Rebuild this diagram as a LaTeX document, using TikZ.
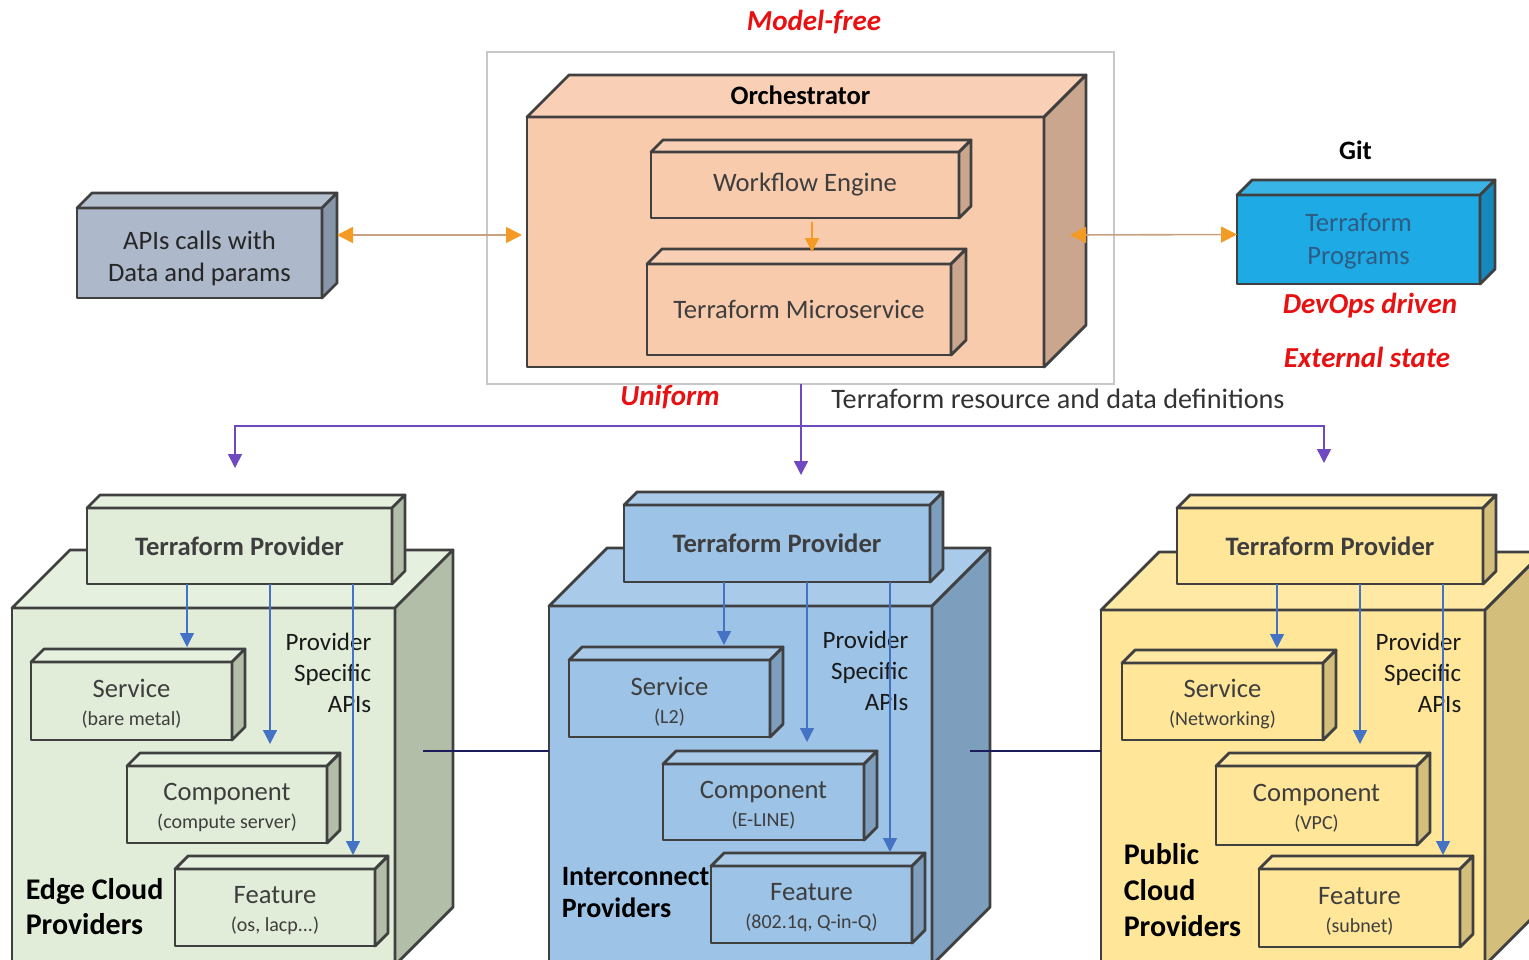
\documentclass[tikz,border=0pt]{standalone}
\usepackage{fontspec}
\setmainfont{Carlito}
\usepackage{tikz}
\usetikzlibrary{arrows.meta,fit,calc}
\tikzset{every picture/.style={line width=0.75pt}}

\definecolor{boxline}{RGB}{64,64,64}
\definecolor{boxtext}{RGB}{62,62,62}
\definecolor{orchfill}{RGB}{248,203,173}
\definecolor{orchside}{RGB}{201,166,141}
\definecolor{apifill}{RGB}{173,185,202}
\definecolor{apiside}{RGB}{135,150,168}
\definecolor{progfill}{RGB}{30,170,228}
\definecolor{progside}{RGB}{21,136,189}
\definecolor{progtext}{RGB}{46,92,132}
\definecolor{edgefill}{RGB}{226,237,217}
\definecolor{edgeside}{RGB}{179,190,168}
\definecolor{netfill}{RGB}{157,195,230}
\definecolor{netside}{RGB}{126,158,190}
\definecolor{pubfill}{RGB}{255,230,153}
\definecolor{pubside}{RGB}{212,190,124}
\definecolor{flowline}{RGB}{200,162,126}
\definecolor{flowhead}{RGB}{243,155,37}
\definecolor{defline}{RGB}{112,72,192}
\definecolor{apiblue}{RGB}{68,114,196}
\definecolor{linknavy}{RGB}{28,28,92}
\definecolor{hotred}{RGB}{232,16,16}
\definecolor{framegray}{RGB}{200,200,200}

\newcommand{\boxfont}{\fontsize{13.3}{16}\selectfont}
\newcommand{\subfont}{\fontsize{10}{12}\selectfont}
\newcommand{\provfont}{\fontsize{13.3}{16}\selectfont\bfseries}
\newcommand{\hotfont}{\fontsize{14.5}{17}\selectfont\bfseries\itshape}

% top and right faces of a box drawn from its front node
\newcommand{\boxdepth}[4]{%
  \draw[boxface, fill=#3] (#1.north west) -- ++(#2,-#2) -- ($(#1.north east)+(#2,-#2)$) -- (#1.north east) -- cycle;
  \draw[boxface, fill=#4] (#1.north east) -- ++(#2,-#2) -- ($(#1.south east)+(#2,-#2)$) -- (#1.south east) -- cycle;
}

\begin{document}
\begin{tikzpicture}[x=0.5pt,y=-0.5pt,
    boxface/.style={draw=boxline, line width=1.4pt, line join=round},
    box/.style={boxface, inner sep=0pt, outer sep=0pt},
    boxlabel/.style={align=center, text=boxtext, font=\boxfont, inner sep=0pt},
    sublabel/.style={boxlabel, yshift=-1.5pt},
    provlabel/.style={boxlabel, font=\provfont},
    hot/.style={text=hotred, font=\hotfont, inner sep=0pt},
    apis/.style={font=\fontsize{12.5}{15.5}\selectfont, text=black!90, align=right, inner sep=0pt, anchor=east},
    group/.style={font=\fontsize{15}{17.5}\selectfont\bfseries, align=left, inner sep=0pt, anchor=west},
    flowarrow/.style={draw=flowline, line width=0.8pt, {Triangle[length=8pt,width=8pt,color=flowhead]}-{Triangle[length=8pt,width=8pt,color=flowhead]}},
    stepflow/.style={draw=flowhead, line width=0.8pt, -{Triangle[length=7pt,width=7pt,color=flowhead]}},
    defarrow/.style={draw=defline, line width=0.8pt, -{Triangle[length=7pt,width=7pt]}},
    apiarrow/.style={draw=apiblue, line width=0.6pt, -{Triangle[length=7pt,width=7pt]}},
    link/.style={draw=linknavy, line width=1.1pt}]
  \useasboundingbox (0,0) rectangle (1529,959);
  \clip (0,0) rectangle (1529,959);

  % Orchestrator
  \node[draw=framegray, line width=0.6pt, inner sep=0pt, outer sep=0pt, fit={(487,52) (1114,384)}] (orchframe) {};
  \node[box, fill=orchfill, fit={(527,117) (1044,367)}] (orch) {};
  \boxdepth{orch}{42}{orchfill!90!white}{orchside}
  \node[provlabel, text=black] (orchtitle) at ($(orch.north)+(15,-22)$) {Orchestrator};
  \node[box, fill=orchfill, fit={(651,152) (959,218)}] (wfe) {};
  \boxdepth{wfe}{12}{orchfill!90!white}{orchside}
  \node[boxlabel] (wfetext) at (wfe) {Workflow Engine};
  \node[box, fill=orchfill, fit={(647,264) (951,355)}] (tms) {};
  \boxdepth{tms}{15}{orchfill!90!white}{orchside}
  \node[boxlabel] (tmstext) at (tms) {Terraform Microservice};
  \draw[stepflow] ($(wfe.south)+(7,4)$) -- ($(tms.north)+(13,-12)$);

  % API calls
  \node[box, fill=apifill, fit={(77,208) (322,298)}] (apis) {};
  \boxdepth{apis}{15}{apifill!90!white}{apiside}
  \node[boxlabel, text=black!85, yshift=-2.5pt] (apistext) at (apis) {APIs calls with\\Data and params};
  \draw[flowarrow] ($(apis.east)+(15,-18)$) -- ($(orch.west)+(-5,-7)$);

  % Git
  \node[box, fill=progfill, fit={(1237,195) (1480,284)}] (tfprog) {};
  \boxdepth{tfprog}{15}{progfill!88!white}{progside}
  \node[boxlabel, text=progtext, font=\fontsize{13.3}{16.5}\selectfont, yshift=-1pt] (tfprogtext) at (tfprog) {Terraform\\Programs};
  \node[provlabel, text=black] (git) at ($(tfprog.north)+(-3,-45)$) {Git};
  \draw[flowarrow] ($(orch.east)+(26,-7)$) -- ($(tfprog.west)+(0,-5)$);

  % red notes
  \node[hot] (modelfree) at ($(orchframe.north)+(13.5,-30)$) {Model-free};
  \node[hot] (devops) at ($(tfprog.south)+(11.5,22)$) {DevOps driven};
  \node[hot] (extstate) at ($(tfprog.south)+(8.5,73)$) {External state};
  \node[hot] (uniform) at ($(orchframe.south)+(-130.5,13)$) {Uniform};
  \node[font=\fontsize{14.1}{17}\selectfont, text=black!80, inner sep=0pt] (defs) at ($(orchframe.south)+(257.5,15)$) {Terraform resource and data definitions};

  % provider cubes
  \node[box, fill=edgefill, fit={(12,608) (395,965)}] (edgecube) {};
  \boxdepth{edgecube}{58}{edgefill!85!white}{edgeside}
  \node[box, fill=netfill, fit={(549,606) (932,965)}] (netcube) {};
  \boxdepth{netcube}{58}{netfill!88!white}{netside}
  \node[box, fill=pubfill, fit={(1101,610) (1485,965)}] (pubcube) {};
  \boxdepth{pubcube}{58}{pubfill!88!white}{pubside}
  \draw[link] ($(edgecube.east)+(28,-35.5)$) -- ($(netcube.west)+(0,-34.5)$);
  \draw[link] ($(netcube.east)+(38,-34.5)$) -- ($(pubcube.west)+(0,-36.5)$);

  % uniform definitions
  \coordinate (fork) at (801,426);
  \draw[defarrow] (orchframe.south -| fork) -- ($(fork)+(0,49)$);
  \draw[defarrow] (fork) -| ($(edgecube.north)+(31.5,-140)$);
  \draw[defarrow] (fork) -| ($(pubcube.north)+(31,-147)$);

  % Edge Cloud
  \node[box, fill=edgefill, fit={(87,508) (392,584)}] (prov1) {};
  \boxdepth{prov1}{13}{edgefill!85!white}{edgeside}
  \node[provlabel] (prov1text) at (prov1) {Terraform Provider};
  \node[box, fill=edgefill, fit={(31,662) (232,740)}] (svc1) {};
  \boxdepth{svc1}{13}{edgefill!85!white}{edgeside}
  \node[sublabel] (svc1text) at (svc1) {Service\\[-2pt]{\subfont (bare metal)}};
  \node[box, fill=edgefill, fit={(127,766) (327,843)}] (comp1) {};
  \boxdepth{comp1}{13}{edgefill!85!white}{edgeside}
  \node[sublabel] (comp1text) at (comp1) {Component\\[-2pt]{\subfont (compute server)}};
  \node[box, fill=edgefill, fit={(175,869) (375,946)}] (feat1) {};
  \boxdepth{feat1}{13}{edgefill!85!white}{edgeside}
  \node[sublabel] (feat1text) at (feat1) {Feature\\[-2pt]{\subfont (os, lacp...)}};
  \node[apis] (apis1) at (372,673) {Provider\\Specific\\APIs};
  \node[group] (grp1) at (25,906.5) {Edge Cloud\\Providers};

  % Interconnect
  \node[box, fill=netfill, fit={(624,505) (930,582)}] (prov2) {};
  \boxdepth{prov2}{13}{netfill!88!white}{netside}
  \node[provlabel] (prov2text) at (prov2) {Terraform Provider};
  \node[box, fill=netfill, fit={(569,660) (770,737)}] (svc2) {};
  \boxdepth{svc2}{13}{netfill!88!white}{netside}
  \node[sublabel] (svc2text) at (svc2) {Service\\[-2pt]{\subfont (L2)}};
  \node[box, fill=netfill, fit={(663,764) (864,840)}] (comp2) {};
  \boxdepth{comp2}{13}{netfill!88!white}{netside}
  \node[sublabel] (comp2text) at (comp2) {Component\\[-2pt]{\subfont (E-LINE)}};
  \node[box, fill=netfill, fit={(711,866) (912,943)}] (feat2) {};
  \boxdepth{feat2}{13}{netfill!88!white}{netside}
  \node[sublabel] (feat2text) at (feat2) {Feature\\[-2pt]{\subfont (802.1q, Q-in-Q)}};
  \node[apis] (apis2) at (909,671) {Provider\\Specific\\APIs};
  \node[group, font=\fontsize{14}{16}\selectfont\bfseries] (grp2) at (561,893) {Interconnect\\Providers};

  % Public Cloud
  \node[box, fill=pubfill, fit={(1177,508) (1483,584)}] (prov3) {};
  \boxdepth{prov3}{13}{pubfill!88!white}{pubside}
  \node[provlabel] (prov3text) at (prov3) {Terraform Provider};
  \node[box, fill=pubfill, fit={(1122,663) (1323,740)}] (svc3) {};
  \boxdepth{svc3}{13}{pubfill!88!white}{pubside}
  \node[sublabel] (svc3text) at (svc3) {Service\\[-2pt]{\subfont (Networking)}};
  \node[box, fill=pubfill, fit={(1216,766) (1417,845)}] (comp3) {};
  \boxdepth{comp3}{13}{pubfill!88!white}{pubside}
  \node[sublabel] (comp3text) at (comp3) {Component\\[-2pt]{\subfont (VPC)}};
  \node[box, fill=pubfill, fit={(1259,869) (1460,947)}] (feat3) {};
  \boxdepth{feat3}{13}{pubfill!88!white}{pubside}
  \node[sublabel] (feat3text) at (feat3) {Feature\\[-2pt]{\subfont (subnet)}};
  \node[apis] (apis3) at (1462,673) {Provider\\Specific\\APIs};
  \node[group, font=\fontsize{15}{18}\selectfont\bfseries] (grp3) at (1123,890) {Public\\Cloud\\Providers};

  % provider specific APIs
  \foreach \g in {1,2,3}{
    \draw[apiarrow] let \p0=(prov\g.south west), \p1=(svc\g.north) in (\x0+50pt,\y0) -- (\x0+50pt,\y1+7.5pt);
    \draw[apiarrow] let \p0=(prov\g.south west), \p1=(comp\g.north) in (\x0+91.5pt,\y0) -- (\x0+91.5pt,\y1+11pt);
    \draw[apiarrow] let \p0=(prov\g.south west), \p1=(feat\g.north) in (\x0+133pt,\y0) -- (\x0+133pt,\y1+7pt);
  }
\end{tikzpicture}
\end{document}
